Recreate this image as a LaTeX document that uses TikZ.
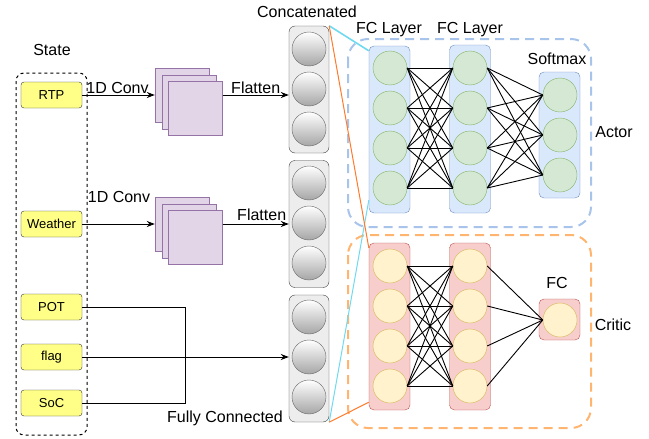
\documentclass[tikz,border=0pt]{standalone}
\usepackage{fontspec}
\setmainfont{Liberation Sans}
\usetikzlibrary{arrows.meta,shapes}

\definecolor{yel}{HTML}{FFFF88}
\definecolor{convfill}{HTML}{E1D5E7}
\definecolor{convline}{HTML}{9673A6}
\definecolor{actfill}{HTML}{DAE8FC}
\definecolor{actline}{HTML}{6C8EBF}
\definecolor{grfill}{HTML}{D5E8D4}
\definecolor{grline}{HTML}{82B366}
\definecolor{crfill}{HTML}{F8CECC}
\definecolor{crline}{HTML}{B85450}
\definecolor{ylfill}{HTML}{FFF2CC}
\definecolor{ylline}{HTML}{D6B656}
\definecolor{actdash}{HTML}{A9C4EB}
\definecolor{crdash}{HTML}{FFB570}
\definecolor{cyanl}{HTML}{6FDAEF}
\definecolor{orangel}{HTML}{FF7A2A}

\tikzset{
 state/.style={draw=black!80, fill=yel, rounded corners=3pt, minimum width=61pt, minimum height=26pt, inner sep=0pt, font=\fontsize{13}{15}\selectfont},
 conv/.style={draw=convline, fill=convfill, minimum size=54pt, inner sep=0pt},
 col/.style={draw=black!75, fill=black!7, rounded corners=6pt, minimum width=40pt, minimum height=127pt, inner sep=0pt},
 ball/.style={circle, draw=black!60, top color=white, bottom color=black!35, minimum size=34pt, inner sep=0pt},
 alay/.style={draw=actline, fill=actfill, rounded corners=5pt, minimum width=41pt, inner sep=0pt},
 aneu/.style={circle, draw=grline, fill=grfill, minimum size=34pt, inner sep=0pt},
 clay/.style={draw=crline, fill=crfill, rounded corners=5pt, minimum width=41pt, inner sep=0pt},
 cneu/.style={circle, draw=ylline, fill=ylfill, minimum size=34pt, inner sep=0pt},
 arr/.style={-{Stealth[length=8pt,width=6pt]}, line width=0.9pt},
 fc/.style={line width=0.9pt}
}

\begin{document}
\begin{tikzpicture}[x=1pt,y=-1pt,font=\fontsize{16}{19}\selectfont]
\useasboundingbox (0,0) rectangle (649,439);

%% state inputs
\node (S) at (52,50) {State};
\draw[dashed, line width=1pt, rounded corners=8pt] (16,73) rectangle (87,435);
\node[state] (R) at (51.5,95) {RTP};
\node[state] (W) at (51.5,224) {Weather};
\node[state] (P) at (51.5,307) {POT};
\node[state] (F) at (51.5,357) {flag};
\node[state] (B) at (51.5,403) {SoC};

%% conv stacks
\foreach \n/\y in {1/68,2/197} {
 \node[conv] (k\n a) at (182,\y+27) {};
 \node[conv] (k\n b) at (188.7,\y+33.7) {};
 \node[conv] (k\n c) at (195.4,\y+40.4) {};
}

%% concatenated columns
\node[col] (c1) at (309,89.5) {};
\node[col] (c2) at (309,224) {};
\node[col] (c3) at (309,358.5) {};
\foreach \y in {49,89,129,183,223,263,317,357,397}
 \node[ball] at (309,\y) {};
\node (cat) at (307,12) {Concatenated};

\draw[arr] (R) -- node[above=-2pt, xshift=-1pt] {1D Conv} (R -| k1a.west);
\draw[arr] (W) -- (W -| k2a.west);
\node (cv2) at (119,197) {1D Conv};
\draw[arr] (k1c.east |- R) -- node[above=-2pt] {Flatten} (R -| c1.west);
\draw[arr] (k2c.east |- W) -- node[above=0pt, xshift=6pt] {Flatten} (W -| c2.west);

%% fully connected inputs
\coordinate (j1) at (185,307);
\coordinate (j2) at (185,403);
\draw[fc] (P) -- (j1) -- (j2) -- (B);
\draw[arr] (F) -- (F -| c3.west);
\node (fcn) at (225,418) {Fully Connected};

%% actor / critic frames
\draw[actdash, line width=2pt, dash pattern=on 9pt off 6pt, rounded corners=20pt] (348,39) rectangle (591,227);
\draw[crdash, line width=2pt, dash pattern=on 9pt off 6pt, rounded corners=20pt] (348,235) rectangle (591,428);

%% actor
\node[alay, minimum height=167pt] (a1) at (389.5,129.5) {};
\node[alay, minimum height=168pt] (a2) at (470,129) {};
\node[alay, minimum height=126pt] (a3) at (559.5,135) {};
\foreach \i/\y in {1/68,2/108,3/148,4/188} {
 \node[aneu] (x\i) at (390,\y) {};
 \node[aneu] (y\i) at (470,\y) {};
}
\foreach \i/\y in {1/95,2/135,3/175}
 \node[aneu] (z\i) at (560,\y) {};
\foreach \i in {1,...,4} {
 \foreach \j in {1,...,4}
  \draw[fc] (x\i.east) -- (y\j.west);
 \foreach \j in {1,2,3}
  \draw[fc] (y\i.east) -- (z\j.west);
}
\node (l1) at (389,30) {FC Layer};
\node (l2) at (470,30) {FC Layer};
\node (sm) at (557,59) {Softmax};
\node (act) at (614,132) {Actor};

%% critic
\node[clay, minimum height=167pt] (b1) at (389.5,326.5) {};
\node[clay, minimum height=167pt] (b2) at (470,326.5) {};
\node[clay, minimum width=41pt, minimum height=41pt] (b3) at (559.5,319.5) {};
\foreach \i/\y in {1/266,2/306,3/346,4/386} {
 \node[cneu] (u\i) at (390,\y) {};
 \node[cneu] (v\i) at (470,\y) {};
}
\node[cneu] (w) at (560,320) {};
\foreach \i in {1,...,4} {
 \foreach \j in {1,...,4}
  \draw[fc] (u\i.east) -- (v\j.west);
 \draw[fc] (v\i.east) -- (w.west);
}
\node (fco) at (557,283) {FC};
\node (cri) at (613,325) {Critic};

%% zoom lines
\draw[cyanl, line width=1.6pt] (c1.north east) -- ([yshift=-5pt]a1.north west);
\draw[cyanl, line width=1pt] (c3.south east) -- ([yshift=13pt]a1.south west);
\draw[orangel, line width=1pt] (c1.north east) -- ([yshift=-5pt]b1.north west);
\draw[orangel, line width=1pt] (c3.south east) -- ([yshift=8pt]b1.south west);

\end{tikzpicture}
\end{document}
